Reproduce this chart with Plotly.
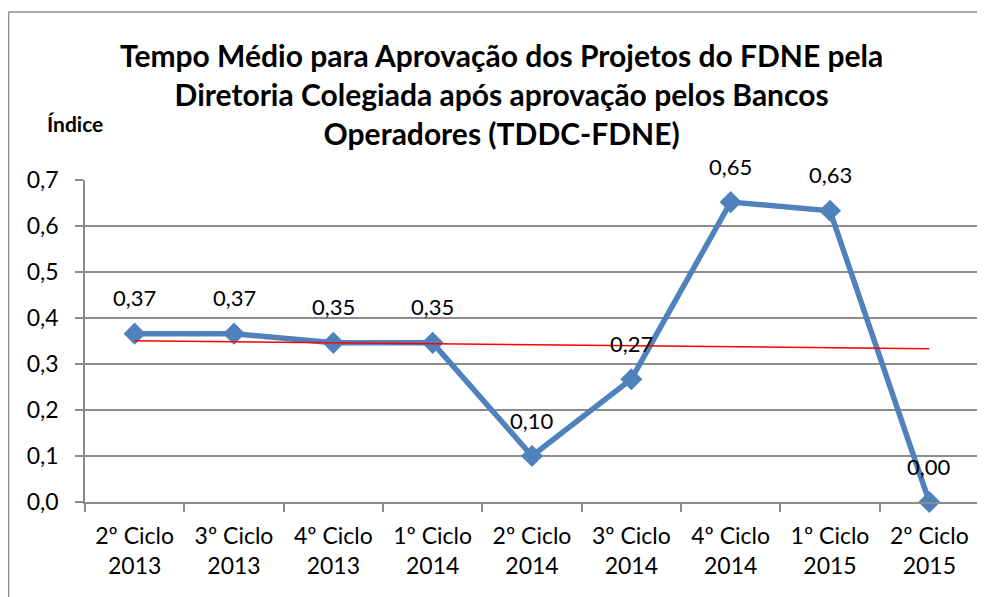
import numpy as np
import plotly.graph_objects as go

categories = ["2º Ciclo<br>2013", "3º Ciclo<br>2013", "4º Ciclo<br>2013", "1º Ciclo<br>2014",
              "2º Ciclo<br>2014", "3º Ciclo<br>2014", "4º Ciclo<br>2014", "1º Ciclo<br>2015",
              "2º Ciclo<br>2015"]
values = [0.366, 0.366, 0.346, 0.346, 0.100, 0.267, 0.652, 0.633, 0.000]

# linear trendline (as Excel)
xs = np.arange(1, len(values) + 1)
slope, intercept = np.polyfit(xs, values, 1)
trend = [slope * x + intercept for x in xs]

FONT = "Lato"
fig = go.Figure()
fig.add_trace(go.Scatter(x=categories, y=values, mode="lines+markers",
                         line=dict(color="#4F81BD", width=5.5),
                         marker=dict(symbol="diamond", size=17, color="#4F81BD"),
                         showlegend=False, hoverinfo="skip", cliponaxis=False))
fig.add_trace(go.Scatter(x=categories, y=trend, mode="lines",
                         line=dict(color="#FF0000", width=1.5),
                         showlegend=False, hoverinfo="skip"))

for c, v in zip(categories, values):
    fig.add_annotation(x=c, y=v, text=f"{v:.2f}".replace(".", ","), showarrow=False,
                       yshift=36, font=dict(family=FONT, size=22, color="black"))

fig.add_annotation(xref="paper", yref="paper", x=0.466, y=1.268,
                   xanchor="center", yanchor="middle",
                   text="<b>Tempo Médio para Aprovação dos Projetos do FDNE pela<br>Diretoria Colegiada após aprovação pelos Bancos<br>Operadores (TDDC-FDNE)</b>",
                   showarrow=False, font=dict(family=FONT, size=30, color="black"))
fig.add_annotation(xref="paper", yref="paper", x=-0.0447, y=1.174,
                   xanchor="left", yanchor="middle", text="<b>Índice</b>",
                   showarrow=False, font=dict(family=FONT, size=21, color="black"))

# outer chart border (top and left edges visible)
fig.add_shape(type="line", xref="paper", yref="paper", x0=-0.0855, x1=1.1, y0=1.522, y1=1.522,
              line=dict(color="#8C8C8C", width=1.5))
fig.add_shape(type="line", xref="paper", yref="paper", x0=-0.0855, x1=-0.0855, y0=-0.4, y1=1.522,
              line=dict(color="#8C8C8C", width=1.5))

fig.update_layout(
    width=977, height=589,
    margin=dict(l=77, r=6, t=172, b=95, autoexpand=False),
    paper_bgcolor="white", plot_bgcolor="white",
    separators=", ",
    font=dict(family=FONT, size=23, color="black"),
    xaxis=dict(type="category", tickson="boundaries", ticks="outside", ticklen=8,
               tickcolor="#8C8C8C", tickwidth=1.5, showgrid=False, automargin=False,
               showline=True, linecolor="#8C8C8C", linewidth=1.5,
               tickfont=dict(family=FONT, size=23), range=[-0.5, 8.5],
               ticklabelstandoff=13),
    yaxis=dict(range=[0, 0.7], dtick=0.1, tickformat=".1f", ticks="outside", ticklen=8,
               tickcolor="#8C8C8C", tickwidth=1.5, showgrid=True, gridcolor="#8C8C8C",
               gridwidth=1.5, showline=True, linecolor="#8C8C8C", linewidth=1.5,
               zeroline=False, automargin=False, tickfont=dict(family=FONT, size=23),
               ticklabelstandoff=12),
)
fig.write_html("out.html")
